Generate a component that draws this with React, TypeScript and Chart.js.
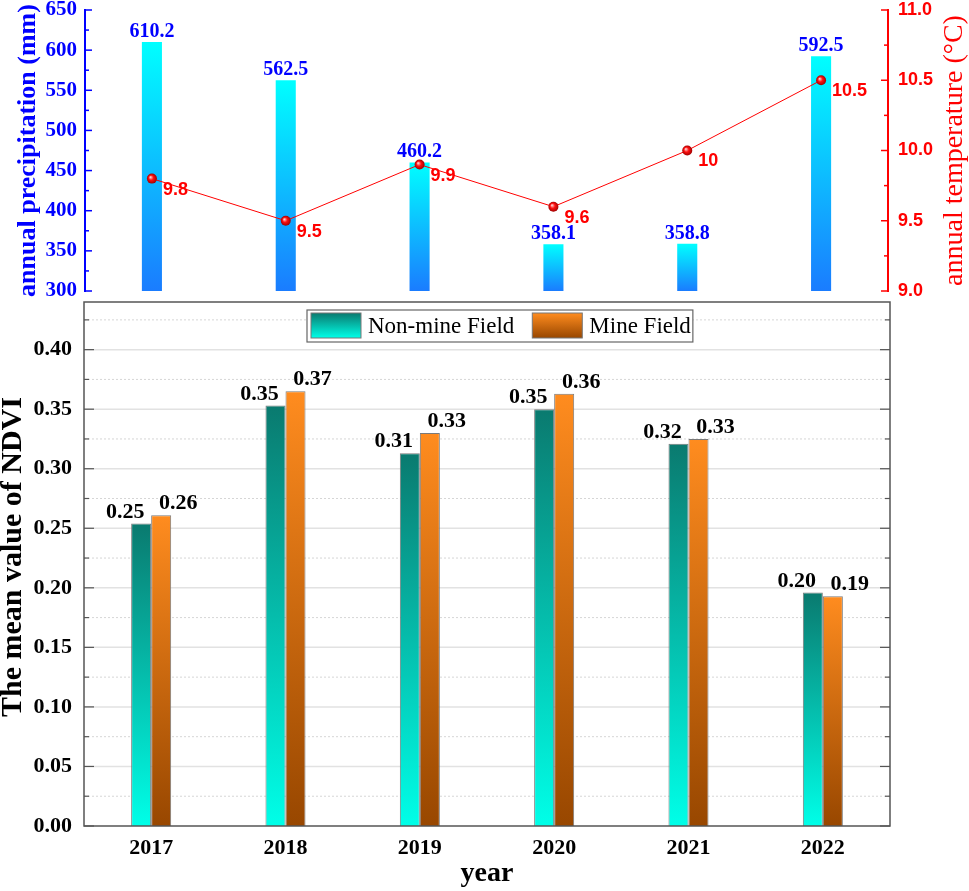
import React, { useEffect, useRef } from 'react';
import { Chart, registerables } from 'chart.js';

Chart.register(...registerables);

// ---------- data ----------
const years = ['2017', '2018', '2019', '2020', '2021', '2022'];
const precipitation = [610.2, 562.5, 460.2, 358.1, 358.8, 592.5];
const precipitationLabels = ['610.2', '562.5', '460.2', '358.1', '358.8', '592.5'];
const temperature = [9.8, 9.5, 9.9, 9.6, 10, 10.5];
const temperatureLabels = ['9.8', '9.5', '9.9', '9.6', '10', '10.5'];
const nonMineNdvi = [0.254, 0.353, 0.313, 0.35, 0.321, 0.196];
const mineNdvi = [0.261, 0.365, 0.33, 0.363, 0.325, 0.193];
const nonMineLabels = ['0.25', '0.35', '0.31', '0.35', '0.32', '0.20'];
const mineLabels = ['0.26', '0.37', '0.33', '0.36', '0.33', '0.19'];

// ---------- ticks ----------
const precipTicks = [300, 350, 400, 450, 500, 550, 600, 650];
const precipMinorTicks = [325, 375, 425, 475, 525, 575, 625];
const tempTicks = [9.0, 9.5, 10.0, 10.5, 11.0];
const tempTickLabels = ['9.0', '9.5', '10.0', '10.5', '11.0'];
const tempMinorTicks = [9.25, 9.75, 10.25, 10.75];
const ndviTicks = [0, 0.05, 0.1, 0.15, 0.2, 0.25, 0.3, 0.35, 0.4];
const ndviTickLabels = ['0.00', '0.05', '0.10', '0.15', '0.20', '0.25', '0.30', '0.35', '0.40'];
const ndviMinorTicks = [0.025, 0.075, 0.125, 0.175, 0.225, 0.275, 0.325, 0.375, 0.425];

const SERIF = '"Liberation Serif", "Times New Roman", serif';
const SANS = '"Liberation Sans", Arial, sans-serif';

const BLUE = '#0000ff';
const RED = '#ff0000';
const precipStops: [number, string][] = [[0, '#00ffff'], [1, '#1a7cff']];
const tealStops: [number, string][] = [[0, '#0a7a6f'], [1, '#00ffe8']];
const orangeStops: [number, string][] = [[0, '#ff8c1f'], [1, '#984700']];

function makeGrad(ctx: CanvasRenderingContext2D, top: number, bottom: number, stops: [number, string][]) {
  const g = ctx.createLinearGradient(0, top, 0, bottom);
  stops.forEach(([o, c]) => g.addColorStop(o, c));
  return g;
}

function barGradient(stops: [number, string][], axisId: string) {
  return (c: any) => {
    const chart = c.chart;
    if (!chart.chartArea || c.type !== 'data' || !c.parsed) return stops[0][1];
    const s = chart.scales[axisId];
    const top = s.getPixelForValue(c.parsed.y);
    const bottom = s.getPixelForValue(s.min);
    return makeGrad(chart.ctx, top, bottom, stops);
  };
}

function hLine(ctx: CanvasRenderingContext2D, x1: number, x2: number, y: number) {
  ctx.beginPath();
  ctx.moveTo(x1, y);
  ctx.lineTo(x2, y);
  ctx.stroke();
}

const topPlugin = {
  id: 'topDecor',
  afterDraw(chart: any) {
    const { ctx, chartArea: a, scales } = chart;
    const y = scales.y;
    const y1 = scales.y1;
    ctx.save();
    // left axis (blue)
    ctx.strokeStyle = BLUE;
    ctx.lineWidth = 2;
    ctx.beginPath();
    ctx.moveTo(a.left, a.top - 1);
    ctx.lineTo(a.left, a.bottom + 1);
    ctx.stroke();
    ctx.lineWidth = 1.5;
    precipTicks.forEach((v) => hLine(ctx, a.left, a.left + 7, y.getPixelForValue(v)));
    precipMinorTicks.forEach((v) => hLine(ctx, a.left, a.left + 4, y.getPixelForValue(v)));
    // right axis (red)
    ctx.strokeStyle = RED;
    ctx.lineWidth = 2;
    ctx.beginPath();
    ctx.moveTo(a.right, a.top - 1);
    ctx.lineTo(a.right, a.bottom + 1);
    ctx.stroke();
    ctx.lineWidth = 1.5;
    tempTicks.forEach((v) => hLine(ctx, a.right - 7, a.right, y1.getPixelForValue(v)));
    tempMinorTicks.forEach((v) => hLine(ctx, a.right - 4, a.right, y1.getPixelForValue(v)));
    // right title (reads bottom to top)
    ctx.save();
    ctx.translate(955, (a.top + a.bottom) / 2);
    ctx.rotate(-Math.PI / 2);
    ctx.font = `28px ${SERIF}`;
    ctx.fillStyle = RED;
    ctx.textAlign = 'center';
    ctx.textBaseline = 'middle';
    ctx.fillText('annual temperature (°C)', 0, 0);
    ctx.restore();
    // precipitation labels
    const barMeta = chart.getDatasetMeta(1);
    ctx.font = `bold 20px ${SERIF}`;
    ctx.fillStyle = BLUE;
    ctx.textAlign = 'center';
    ctx.textBaseline = 'alphabetic';
    barMeta.data.forEach((el: any, i: number) => ctx.fillText(precipitationLabels[i], el.x, el.y - 5));
    // temperature labels
    const lineMeta = chart.getDatasetMeta(0);
    ctx.font = `bold 18px ${SANS}`;
    ctx.fillStyle = RED;
    ctx.textAlign = 'left';
    ctx.textBaseline = 'middle';
    lineMeta.data.forEach((el: any, i: number) => ctx.fillText(temperatureLabels[i], el.x + 11, el.y + 11));
    ctx.restore();
  },
};

const bottomPlugin = {
  id: 'bottomDecor',
  beforeDatasetsDraw(chart: any) {
    const { ctx, chartArea: a, scales } = chart;
    const y = scales.y;
    ctx.save();
    ctx.strokeStyle = '#e2e2e2';
    ctx.lineWidth = 1.5;
    ndviTicks.forEach((v) => {
      if (v === 0) return;
      hLine(ctx, a.left, a.right, y.getPixelForValue(v));
    });
    ctx.strokeStyle = '#d6d6d6';
    ctx.lineWidth = 1;
    ctx.setLineDash([2, 2]);
    ndviMinorTicks.forEach((v) => hLine(ctx, a.left, a.right, y.getPixelForValue(v)));
    ctx.restore();
  },
  afterDraw(chart: any) {
    const { ctx, chartArea: a, scales } = chart;
    const y = scales.y;
    ctx.save();
    // frame
    ctx.strokeStyle = '#555555';
    ctx.lineWidth = 1.5;
    ctx.strokeRect(a.left, a.top, a.right - a.left, a.bottom - a.top);
    // inward ticks on left and right
    ctx.lineWidth = 1.2;
    ndviTicks.forEach((v) => {
      const py = y.getPixelForValue(v);
      hLine(ctx, a.left, a.left + 10, py);
      hLine(ctx, a.right - 10, a.right, py);
    });
    ndviMinorTicks.forEach((v) => {
      const py = y.getPixelForValue(v);
      hLine(ctx, a.left, a.left + 5, py);
      hLine(ctx, a.right - 5, a.right, py);
    });
    // y axis title
    ctx.save();
    ctx.translate(13, (a.top + a.bottom) / 2 - 7);
    ctx.rotate(-Math.PI / 2);
    ctx.font = `bold 30px ${SERIF}`;
    ctx.fillStyle = '#000000';
    ctx.textAlign = 'center';
    ctx.textBaseline = 'middle';
    ctx.fillText('The mean value of NDVI', 0, 0);
    ctx.restore();
    // value labels
    ctx.font = `bold 22px ${SERIF}`;
    ctx.fillStyle = '#000000';
    ctx.textAlign = 'center';
    ctx.textBaseline = 'alphabetic';
    chart.getDatasetMeta(0).data.forEach((el: any, i: number) => ctx.fillText(nonMineLabels[i], el.x - 16, el.y - 6));
    chart.getDatasetMeta(1).data.forEach((el: any, i: number) => ctx.fillText(mineLabels[i], el.x + 17, el.y - 6));
    // legend
    const ds = chart.data.datasets;
    const stopsList = [tealStops, orangeStops];
    ctx.font = `23px ${SERIF}`;
    const boxLeft = a.left + 223;
    const boxTop = a.top + 8;
    const boxH = 32;
    let x = boxLeft + 4;
    const items: { x: number; tx: number; label: string; stops: [number, string][] }[] = [];
    ds.forEach((d: any, i: number) => {
      const tw = ctx.measureText(d.label).width;
      items.push({ x, tx: x + 57, label: d.label, stops: stopsList[i] });
      x += 57 + tw + (i < ds.length - 1 ? 18 : 2);
    });
    const boxW = x - boxLeft;
    ctx.fillStyle = '#ffffff';
    ctx.fillRect(boxLeft, boxTop, boxW, boxH);
    ctx.strokeStyle = '#666666';
    ctx.lineWidth = 1.2;
    ctx.strokeRect(boxLeft, boxTop, boxW, boxH);
    items.forEach((it) => {
      ctx.fillStyle = makeGrad(ctx, boxTop + 3, boxTop + 28, it.stops);
      ctx.fillRect(it.x, boxTop + 3, 50, 25);
      ctx.strokeStyle = '#777777';
      ctx.lineWidth = 1;
      ctx.strokeRect(it.x, boxTop + 3, 50, 25);
      ctx.fillStyle = '#000000';
      ctx.textAlign = 'left';
      ctx.textBaseline = 'middle';
      ctx.fillText(it.label, it.tx, boxTop + boxH / 2 + 1);
    });
    ctx.restore();
  },
};

export default function App() {
  const topRef = useRef<HTMLCanvasElement>(null);
  const botRef = useRef<HTMLCanvasElement>(null);

  useEffect(() => {
    const topChart = new Chart(topRef.current as HTMLCanvasElement, {
      type: 'bar',
      data: {
        labels: years,
        datasets: [
          {
            type: 'line',
            label: 'annual temperature',
            data: temperature,
            yAxisID: 'y1',
            borderColor: RED,
            borderWidth: 1,
            pointRadius: 5,
            pointBorderWidth: 0,
            pointBackgroundColor: (c: any) => {
              const chart = c.chart;
              if (!chart.chartArea || c.type !== 'data' || !c.parsed) return RED;
              const px = chart.scales.x.getPixelForValue(c.dataIndex);
              const py = chart.scales.y1.getPixelForValue(c.parsed.y);
              const g = chart.ctx.createRadialGradient(px - 1.5, py - 1.5, 0.3, px, py, 5);
              g.addColorStop(0, '#ffd0d0');
              g.addColorStop(0.45, '#ff1010');
              g.addColorStop(1, '#a00000');
              return g;
            },
            order: 0,
          } as any,
          {
            type: 'bar',
            label: 'annual precipitation',
            data: precipitation,
            yAxisID: 'y',
            backgroundColor: barGradient(precipStops, 'y'),
            borderWidth: 0,
            barPercentage: 1,
            categoryPercentage: 0.15,
            order: 1,
          } as any,
        ],
      },
      options: {
        responsive: false,
        animation: false,
        layout: { padding: { top: 10, bottom: 9, left: 0, right: 0 } },
        plugins: { legend: { display: false }, tooltip: { enabled: false } },
        scales: {
          x: { display: false, offset: true },
          y: {
            position: 'left',
            min: 300,
            max: 650,
            afterBuildTicks: (s: any) => {
              s.ticks = precipTicks.map((v) => ({ value: v }));
            },
            afterFit: (s: any) => {
              s.width = 85;
              s.paddingTop = 0;
              s.paddingBottom = 0;
            },
            grid: { display: false, drawTicks: false },
            border: { display: false },
            ticks: {
              color: BLUE,
              padding: 8,
              font: { family: SERIF, size: 21, weight: 'bold' },
              callback: (_v: any, i: number) => String(precipTicks[i]),
            },
            title: {
              display: true,
              text: 'annual precipitation (mm)',
              color: BLUE,
              font: { family: SERIF, size: 26, weight: 'bold', lineHeight: 1 },
              padding: { top: 15, bottom: 0 },
            },
          },
          y1: {
            position: 'right',
            min: 9,
            max: 11,
            afterBuildTicks: (s: any) => {
              s.ticks = tempTicks.map((v) => ({ value: v }));
            },
            afterFit: (s: any) => {
              s.width = 81;
              s.paddingTop = 0;
              s.paddingBottom = 0;
            },
            grid: { display: false, drawTicks: false },
            border: { display: false },
            ticks: {
              color: RED,
              padding: 10,
              font: { family: SANS, size: 18, weight: 'bold' },
              callback: (_v: any, i: number) => tempTickLabels[i],
            },
          },
        },
      } as any,
      plugins: [topPlugin],
    });

    const botChart = new Chart(botRef.current as HTMLCanvasElement, {
      type: 'bar',
      data: {
        labels: years,
        datasets: [
          {
            label: 'Non-mine Field',
            data: nonMineNdvi,
            backgroundColor: barGradient(tealStops, 'y'),
            borderColor: '#7a7a7a',
            borderWidth: 1,
            barPercentage: 1,
            categoryPercentage: 0.298,
          } as any,
          {
            label: 'Mine Field',
            data: mineNdvi,
            backgroundColor: barGradient(orangeStops, 'y'),
            borderColor: '#7a7a7a',
            borderWidth: 1,
            barPercentage: 1,
            categoryPercentage: 0.298,
          } as any,
        ],
      },
      options: {
        responsive: false,
        animation: false,
        layout: { padding: { top: 10, right: 79, left: 0, bottom: 0 } },
        plugins: { legend: { display: false }, tooltip: { enabled: false } },
        scales: {
          x: {
            offset: true,
            grid: { display: false, drawTicks: false },
            border: { display: false },
            afterFit: (s: any) => {
              s.height = 65;
              s.paddingLeft = 0;
              s.paddingRight = 0;
            },
            ticks: {
              color: '#000000',
              padding: 9,
              autoSkip: false,
              maxRotation: 0,
              font: { family: SERIF, size: 22, weight: 'bold' },
            },
            title: {
              display: true,
              text: 'year',
              color: '#000000',
              font: { family: SERIF, size: 28, weight: 'bold', lineHeight: 1 },
              padding: { top: 0, bottom: 3 },
            },
          },
          y: {
            min: 0,
            max: 0.44,
            afterBuildTicks: (s: any) => {
              s.ticks = ndviTicks.map((v) => ({ value: v }));
            },
            afterFit: (s: any) => {
              s.width = 84;
              s.paddingTop = 0;
              s.paddingBottom = 0;
            },
            grid: { display: false, drawTicks: false },
            border: { display: false },
            ticks: {
              color: '#000000',
              padding: 12,
              font: { family: SERIF, size: 22, weight: 'bold' },
              callback: (_v: any, i: number) => ndviTickLabels[i],
            },
            title: { display: false },
          },
        },
      } as any,
      plugins: [bottomPlugin],
    });

    return () => {
      topChart.destroy();
      botChart.destroy();
    };
  }, []);

  return (
    <div style={{ position: 'absolute', left: 0, top: 0, width: 969, height: 891, background: '#ffffff' }}>
      <canvas ref={topRef} width={969} height={300} style={{ position: 'absolute', left: 0, top: 0 }} />
      <canvas ref={botRef} width={969} height={599} style={{ position: 'absolute', left: 0, top: 292 }} />
    </div>
  );
}
